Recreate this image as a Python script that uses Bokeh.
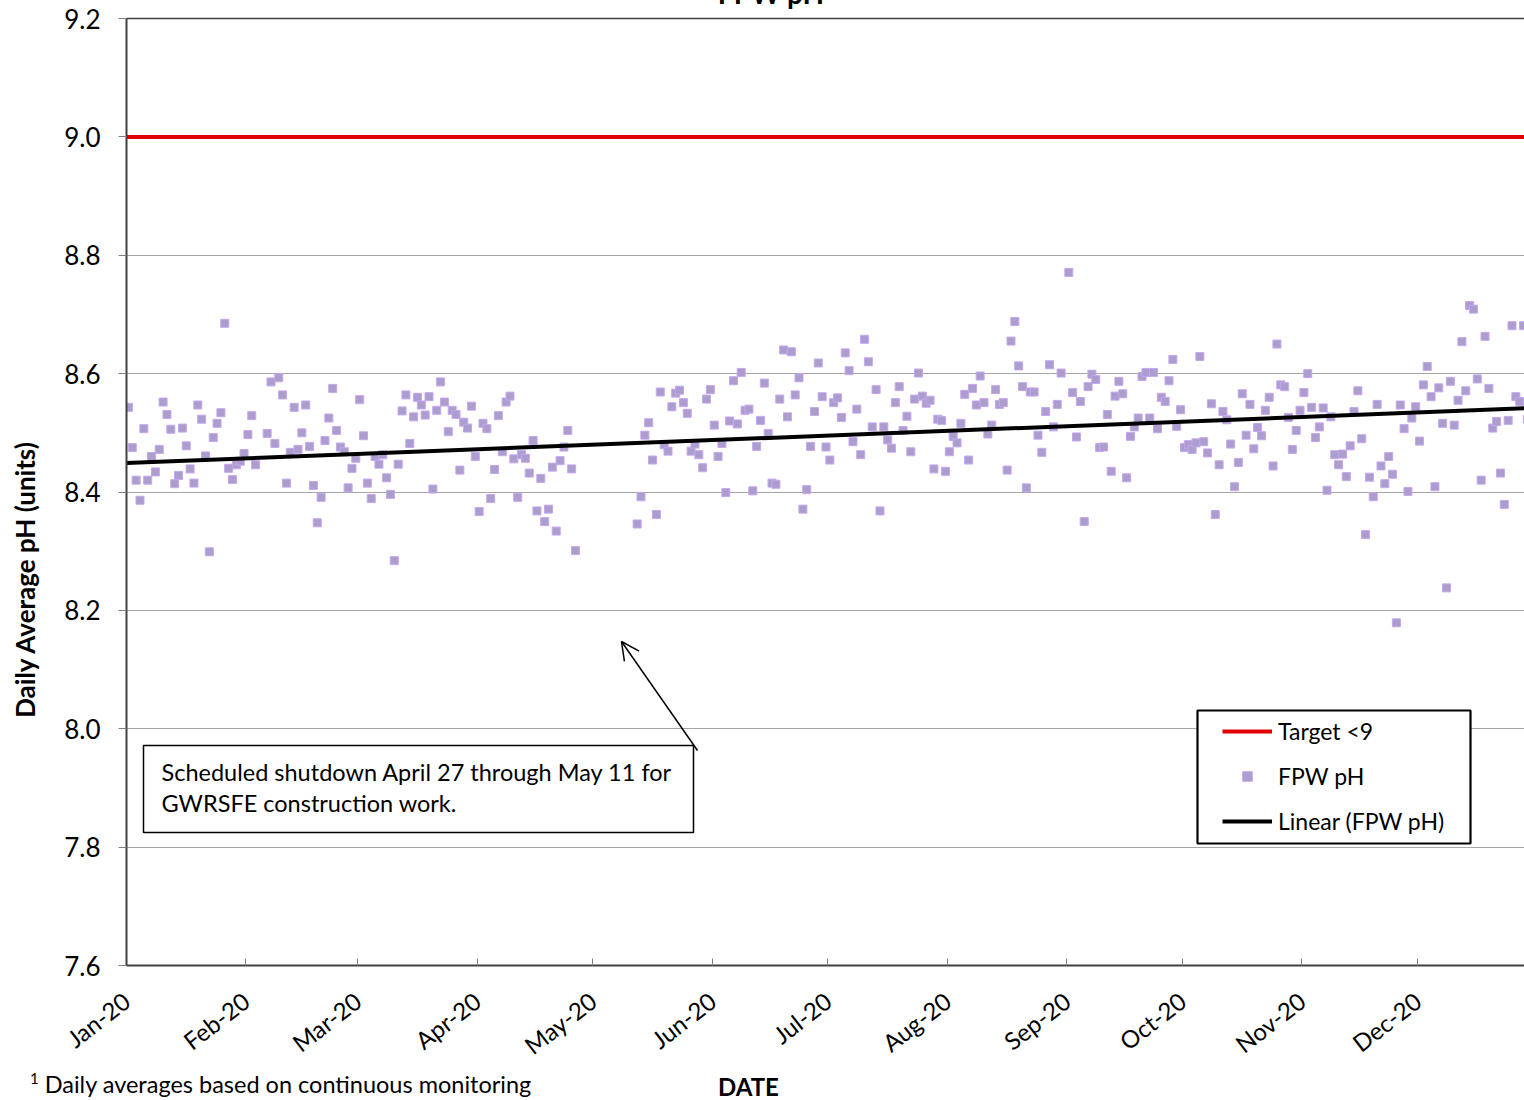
import pandas as pd
from bokeh.plotting import figure
from bokeh.layouts import column
from bokeh.models import (Label, Arrow, OpenHead, Legend, LegendItem, Range1d, Div, BoxAnnotation,
                          DatetimeAxis, DatetimeTickFormatter, MonthsTicker, FixedTicker, NumeralTickFormatter)
from bokeh.embed import file_html
from bokeh.resources import INLINE

N = None
YEAR = 2020
# Daily average pH per month (None = no data)
jan = [8.543, 8.475, 8.420, 8.386, 8.507, 8.420, 8.460, 8.434, 8.472, 8.552, 8.531, 8.506, 8.414, 8.428, 8.508,
       8.478, 8.439, 8.415, 8.547, 8.523, 8.461, 8.299, 8.492, 8.516, 8.534, 8.685, 8.440, 8.421, 8.446, 8.452, 8.465]
feb = [8.497, 8.529, 8.446, N, N, 8.499, 8.586, 8.482, 8.593, 8.564, 8.415, 8.467, 8.543, 8.472, 8.500,
       8.547, 8.477, 8.411, 8.348, 8.391, 8.487, 8.525, 8.575, 8.504, 8.476, 8.468, 8.407, 8.440, 8.457]
mar = [8.556, 8.495, 8.415, 8.389, 8.460, 8.447, 8.463, 8.424, 8.396, 8.284, 8.447, 8.537, 8.564, 8.482, 8.527,
       8.560, 8.547, 8.530, 8.561, 8.405, 8.538, 8.586, 8.552, 8.502, 8.538, 8.531, 8.437, 8.518, 8.508, 8.545, 8.460]
apr = [8.367, 8.516, 8.507, 8.389, 8.438, 8.529, 8.468, 8.552, 8.562, 8.456, 8.391, 8.463, 8.457, 8.432, 8.487,
       8.368, 8.423, 8.350, 8.371, 8.442, 8.334, 8.453, 8.476, 8.504, 8.439, 8.301, N, N, N, N]
may = [N, N, N, N, N, N, N, N, N, N, N, 8.346, 8.392, 8.496, 8.517,
       8.454, 8.362, 8.569, 8.480, 8.469, 8.544, 8.567, 8.572, 8.551, 8.533, 8.469, 8.481, 8.463, 8.441, 8.557, 8.573]
jun = [8.513, 8.460, 8.482, 8.399, 8.520, 8.588, 8.515, 8.602, 8.538, 8.540, 8.402, 8.477, 8.521, 8.584, 8.499,
       8.415, 8.413, 8.557, 8.640, 8.527, 8.637, 8.564, 8.593, 8.371, 8.404, 8.477, 8.536, 8.618, 8.561, 8.476]
jul = [8.454, 8.551, 8.559, 8.526, 8.635, 8.605, 8.485, 8.540, 8.463, 8.658, 8.620, 8.510, 8.573, 8.368, 8.510,
       8.488, 8.474, 8.551, 8.578, 8.504, 8.528, 8.468, 8.557, 8.601, 8.562, 8.550, 8.555, 8.439, 8.523, 8.521, 8.435]
aug = [8.468, 8.494, 8.483, 8.516, 8.565, 8.454, 8.575, 8.547, 8.596, 8.551, 8.498, 8.513, 8.573, 8.548, 8.551,
       8.437, 8.655, 8.688, 8.613, 8.578, 8.407, 8.569, 8.569, 8.496, 8.467, 8.536, 8.615, 8.510, 8.548, 8.601, N]
sep = [8.771, 8.568, 8.493, 8.553, 8.350, 8.578, 8.599, 8.590, 8.475, 8.476, 8.531, 8.435, 8.562, 8.587, 8.566,
       8.424, 8.494, 8.510, 8.525, 8.595, 8.602, 8.525, 8.602, 8.507, 8.560, 8.553, 8.588, 8.624, 8.511, 8.539]
oct_ = [8.475, 8.480, 8.472, 8.483, 8.629, 8.485, 8.466, 8.549, 8.362, 8.446, 8.536, 8.522, 8.481, 8.409, 8.450,
        8.566, 8.496, 8.548, 8.473, 8.509, 8.495, 8.538, 8.560, 8.444, 8.650, 8.581, 8.578, 8.526, 8.472, 8.504, 8.538]
nov = [8.568, 8.600, 8.543, 8.492, 8.510, 8.542, 8.403, 8.527, 8.463, 8.446, 8.464, 8.426, 8.478, 8.536, 8.571,
       8.490, 8.328, 8.425, 8.392, 8.548, 8.444, 8.414, 8.460, 8.430, 8.179, 8.547, 8.507, 8.401, 8.525, 8.544]
dec = [8.486, 8.581, 8.612, 8.561, 8.409, 8.576, 8.516, 8.238, 8.587, 8.513, 8.555, 8.654, 8.571, 8.715, 8.709,
       8.591, 8.420, 8.663, 8.575, 8.508, 8.519, 8.432, 8.379, 8.521, 8.681, 8.561, 8.553, 8.681, 8.523, N, N]
monthly_ph = [jan, feb, mar, apr, may, jun, jul, aug, sep, oct_, nov, dec]

target_value = 9.0
trend_dates = ["2020-01-01", "2020-12-31"]
trend_ph = [8.449, 8.542]
y_ticks = [7.6, 7.8, 8.0, 8.2, 8.4, 8.6, 8.8, 9.0, 9.2]

FONT = "Lato"

dates, ph = [], []
for m, arr in enumerate(monthly_ph, start=1):
    for day, v in enumerate(arr, start=1):
        if v is not None:
            dates.append(pd.Timestamp(YEAR, m, day) + pd.Timedelta(hours=12))
            ph.append(v)

# layout (page pixels)
W, H = 1524, 1075
FL, FT, FB, FR = 126, 18, 965, 1524
x0 = pd.Timestamp("2020-01-01")
x1 = x0 + pd.Timedelta(days=(FR - FL) / 3.854)

p = figure(width=W, height=H, x_axis_type="datetime", output_backend="svg", toolbar_location=None,
           x_range=Range1d(x0, x1), y_range=Range1d(7.6, 9.2),
           min_border_left=FL, min_border_right=0, min_border_top=FT, min_border_bottom=H - FB)
p.background_fill_color = "white"
p.border_fill_color = "white"
p.outline_line_color = None

ms0, ms1 = x0.value / 1e6, x1.value / 1e6
def xd(px):
    return ms0 + (px - FL) / (FR - FL) * (ms1 - ms0)
def yd(py):
    return 9.2 - (py - FT) / (FB - FT) * 1.6

r_target = p.line([pd.Timestamp("2020-01-01"), pd.Timestamp("2021-01-01")], [target_value, target_value],
                  line_color="#e00000", line_width=4)
r_pts = p.scatter(dates, ph, marker="square", size=8, fill_color="#ab9dcc", line_color="#c6a6f2", line_width=1)
r_trend = p.line([pd.Timestamp(d) for d in trend_dates], trend_ph, line_color="black", line_width=4)

# axes
p.xaxis.ticker = MonthsTicker(months=list(range(12)))
p.xaxis.formatter = DatetimeTickFormatter(months="%b-%y", days="%b-%y", years="%b-%y", hours="%b-%y")
p.xaxis.major_label_orientation = 0.66
p.xaxis.major_tick_in = 7
p.xaxis.major_tick_out = 0
p.xaxis.minor_tick_line_color = None
p.xaxis.axis_line_color = "#404040"
p.xaxis.axis_line_width = 2
p.xaxis.major_tick_line_color = "#808080"
p.xaxis.major_label_text_font = FONT
p.xaxis.major_label_text_font_size = "24px"
p.xaxis.major_label_text_color = "black"
p.xaxis.major_label_standoff = 32

p.yaxis.ticker = FixedTicker(ticks=y_ticks)
p.yaxis.formatter = NumeralTickFormatter(format="0.0")
p.yaxis.major_tick_in = 0
p.yaxis.major_tick_out = 8
p.yaxis.minor_tick_line_color = None
p.yaxis.axis_line_color = "#404040"
p.yaxis.axis_line_width = 2
p.yaxis.major_tick_line_color = "#808080"
p.yaxis.major_label_text_font = FONT
p.yaxis.major_label_text_font_size = "26px"
p.yaxis.major_label_text_color = "black"
p.yaxis.major_label_standoff = 18

# plain top border line (axis without ticks or labels)
top_axis = DatetimeAxis(ticker=FixedTicker(ticks=[]), major_tick_line_color=None, minor_tick_line_color=None,
                        axis_line_color="#404040", axis_line_width=1.5)
p.add_layout(top_axis, "above")

p.xgrid.grid_line_color = None
p.ygrid.grid_line_color = "#a6a6a6"
p.ygrid.grid_line_width = 1

# annotation box + arrow
p.add_layout(BoxAnnotation(left=xd(143), right=xd(693), top=yd(745), bottom=yd(832),
                           fill_color="white", fill_alpha=1.0, line_color="black", line_alpha=1.0,
                           line_width=1.5))
p.add_layout(Label(x=xd(161), y=yd(757), text="Scheduled shutdown April 27 through May 11 for\nGWRSFE construction work.",
                   text_font=FONT, text_font_size="23.5px", text_color="black", text_align="left",
                   text_baseline="top", text_line_height=1.13))
p.add_layout(Arrow(end=OpenHead(size=18, line_width=1.5, line_color="black"),
                   x_start=xd(697), y_start=yd(750), x_end=xd(621), y_end=yd(641),
                   line_width=1.5, line_color="black"))

# legend: framed box + borderless legend
p.add_layout(BoxAnnotation(left=xd(1197), right=xd(1470), top=yd(710), bottom=yd(843),
                           fill_color="white", fill_alpha=1.0, line_color="black", line_alpha=1.0,
                           line_width=2.2))
legend = Legend(items=[LegendItem(label="Target <9", renderers=[r_target]),
                       LegendItem(label="FPW pH", renderers=[r_pts]),
                       LegendItem(label="Linear (FPW pH)", renderers=[r_trend])],
                location=(1222 - FL, FB - 835), orientation="vertical",
                border_line_color=None, background_fill_alpha=0.0, padding=0, spacing=17, margin=0,
                glyph_width=50, glyph_height=24, label_height=24, label_standoff=6,
                label_text_font=FONT, label_text_font_size="23px", label_text_color="black")
p.add_layout(legend)

# texts outside the plot frame (HTML, positioned relative to the bottom strip at page y = H)
NH = 1100 - H
notes = Div(width=W, height=NH, margin=0, text=(
    f"<div style='position:relative;width:{W}px;height:{NH}px;font-family:Lato;color:black;line-height:1.2;'>"
    "<span style='position:absolute;left:30px;top:-6px;font-size:23.5px;white-space:nowrap;'>"
    "<sup style='font-size:15px;'>1</sup> Daily averages based on continuous monitoring</span>"
    "<span style='position:absolute;left:718px;top:-2px;font-size:24px;font-weight:bold;'>DATE</span>"
    f"<span style='position:absolute;left:671px;width:200px;text-align:center;top:{-23 - H}px;"
    "font-size:28px;font-weight:bold;white-space:nowrap;'>FPW pH</span>"
    f"<span style='position:absolute;left:26px;top:{580 - H}px;font-size:26px;font-weight:bold;"
    "white-space:nowrap;transform:translate(-50%,-50%) rotate(-90deg);'>Daily Average pH (units)</span>"
    "</div>"))

layout = column(p, notes, spacing=0)
open("out.html", "w").write(file_html(layout, INLINE))
